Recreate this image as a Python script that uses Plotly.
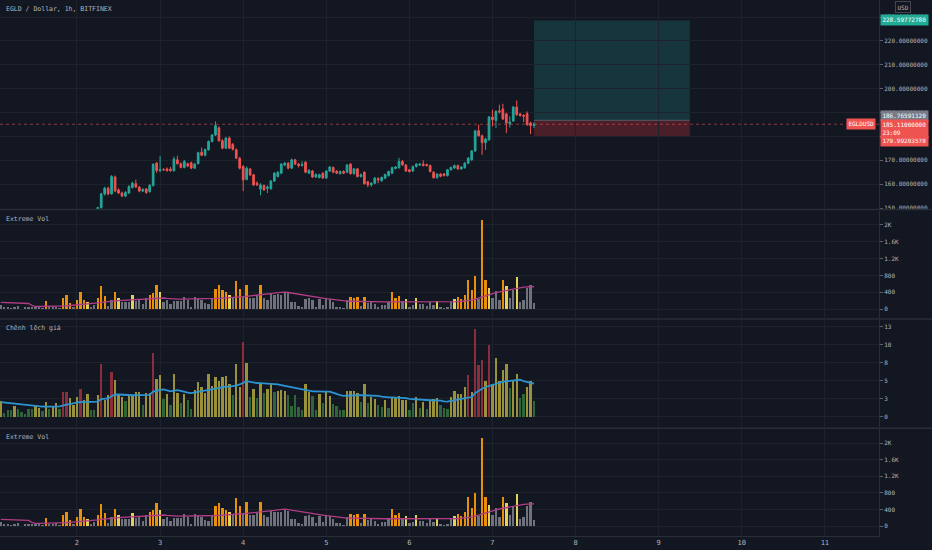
import pandas as pd
import plotly.graph_objects as go

# ---------------- data ----------------
START = "2021-09-01 02:00"
N_BARS = 155
times = pd.date_range(START, periods=N_BARS, freq="h")

opens = [144.0,144.6,144.2,143.5,143.9,144.7,145.6,145.2,144.5,145.0,
         144.8,144.9,145.3,144.9,142.6,143.3,143.7,144.9,144.5,146.4,
         145.1,146.5,146.1,147.6,145.5,146.8,148.3,148.1,147.9,150.2,
         155.9,158.3,155.9,163.0,157.6,156.3,155.0,156.3,158.6,160.2,
         158.8,157.1,158.0,156.9,159.4,168.8,165.7,166.1,166.4,166.3,
         165.6,170.2,168.6,167.0,168.6,169.0,166.7,168.6,173.4,172.1,
         174.4,177.9,180.6,183.6,178.2,175.1,179.3,176.7,174.4,170.9,
         167.4,162.0,166.3,163.9,160.4,157.9,159.4,158.2,158.1,161.3,
         163.2,164.6,168.0,168.8,166.7,170.2,168.4,167.8,169.2,164.6,
         165.5,163.0,162.8,164.6,162.6,165.5,167.0,165.4,164.4,165.3,
         165.0,168.4,164.4,166.4,163.2,165.0,161.0,159.7,160.4,162.3,
         161.4,162.5,163.6,164.6,166.6,166.9,169.5,168.0,166.0,165.5,
         167.4,168.0,168.4,168.2,167.8,165.0,162.7,164.2,164.3,163.6,
         166.0,166.8,167.8,166.4,166.9,168.8,170.2,173.9,182.4,180.3,
         177.4,178.6,188.1,186.7,190.7,191.5,189.4,185.3,186.5,192.3,
         189.4,188.8,189.5,185.6,184.6]
highs = [145.2,145.5,144.9,144.3,145.0,146.1,146.0,145.8,145.4,145.6,
         145.3,145.5,145.6,145.1,143.7,144.0,145.2,145.4,146.9,147.8,
         146.9,147.2,148.2,148.9,147.2,148.8,148.9,148.8,150.3,156.4,
         158.9,158.9,163.8,163.6,158.3,156.9,157.1,159.6,161.0,161.9,
         159.2,158.3,158.4,160.1,168.8,169.3,171.9,166.7,167.0,167.2,
         171.5,171.9,169.1,170.1,169.0,169.4,169.0,173.6,175.3,174.9,
         178.3,181.0,186.3,184.2,178.9,179.8,180.0,177.2,175.0,171.4,
         167.9,167.4,166.8,164.3,161.2,160.4,159.9,159.5,161.7,165.0,
         165.4,168.8,169.3,169.3,170.7,170.6,168.9,169.6,169.6,166.3,
         166.0,164.5,164.4,165.0,165.9,167.6,167.4,165.9,165.7,165.8,
         168.5,168.8,166.8,166.8,164.5,165.4,161.4,160.8,163.0,162.9,
         163.2,164.4,165.7,167.3,167.6,171.0,170.1,168.4,166.4,167.8,
         168.8,168.8,170.0,168.6,168.2,165.4,164.6,164.6,164.7,166.4,
         167.4,168.2,168.2,167.6,169.2,171.4,174.3,182.8,185.0,180.8,
         179.4,188.6,191.2,191.0,193.3,193.7,189.9,188.4,192.8,195.1,
         189.9,189.3,190.5,186.2,186.0]
lows = [143.1,143.8,142.9,142.7,143.2,144.0,144.9,144.1,143.9,144.3,
        144.2,144.5,144.6,141.8,142.2,142.8,143.4,144.1,143.4,144.5,
        144.6,145.8,145.7,144.9,145.0,146.2,147.8,147.6,147.5,149.6,
        155.2,155.3,155.6,156.6,155.8,154.6,154.5,155.9,158.2,158.4,
        156.6,156.7,155.9,156.4,159.0,164.8,165.0,165.6,165.2,165.3,
        165.3,168.2,166.6,166.6,167.1,166.3,166.4,168.3,171.8,171.7,
        174.0,177.5,180.2,177.8,174.6,174.7,174.7,174.1,170.5,166.2,
        157.1,161.6,163.4,159.3,159.2,155.3,157.2,156.3,157.6,160.9,
        162.8,164.2,167.5,166.2,166.3,168.0,167.0,167.4,164.6,164.2,
        162.6,162.6,162.4,162.2,162.2,165.1,164.6,164.2,164.0,164.2,
        164.6,164.0,164.0,162.8,162.8,159.8,158.7,158.9,160.0,160.4,
        161.0,162.1,163.2,164.2,166.2,166.5,167.7,165.1,164.9,165.1,
        167.0,167.6,167.4,167.4,164.9,162.3,162.3,162.9,163.2,163.2,
        165.7,166.4,166.0,166.0,166.5,168.4,169.8,173.5,179.9,172.3,
        174.4,178.2,184.2,183.6,189.6,186.9,181.4,183.7,186.1,188.7,
        188.3,186.0,184.5,181.0,183.5]
closes = [144.6,144.2,143.5,143.9,144.7,145.6,145.2,144.5,145.0,144.8,
          144.9,145.3,144.9,142.6,143.3,143.7,144.9,144.5,146.4,145.1,
          146.5,146.1,147.6,145.5,146.8,148.3,148.1,147.9,150.2,155.9,
          158.3,155.9,163.2,157.1,156.3,155.0,156.5,159.0,160.4,158.8,
          157.1,157.8,156.5,159.4,168.3,165.7,166.1,166.0,165.7,165.6,
          170.5,168.6,167.0,169.5,167.6,166.7,168.4,173.2,172.1,174.5,
          177.9,180.6,184.5,178.2,175.1,179.3,175.1,174.6,170.9,166.7,
          161.8,166.7,163.9,159.7,159.7,159.7,157.6,158.8,161.3,164.6,
          165.0,168.4,168.8,166.7,170.2,168.4,167.8,168.2,165.0,165.8,
          163.0,164.0,163.9,162.6,165.5,167.2,165.0,164.6,165.3,164.6,
          168.0,164.4,166.4,163.2,163.9,160.2,159.7,160.4,162.5,161.8,
          162.8,164.0,165.3,166.9,167.2,169.5,168.1,165.5,165.3,167.4,
          168.4,168.4,167.8,167.8,165.3,162.7,164.2,163.3,163.6,166.0,
          167.0,167.8,166.4,167.2,168.8,170.9,173.9,182.3,180.3,177.4,
          178.9,188.1,187.0,190.5,190.3,187.3,185.6,186.0,192.3,189.1,
          188.8,188.5,184.9,184.6,185.11]

volume = [95,40,55,16,40,80,8,40,48,40,
          40,40,24,200,55,40,63,32,262,341,
          150,40,222,405,214,167,40,87,254,540,
          310,71,214,405,270,159,159,175,325,190,
          238,119,254,341,389,563,397,159,214,111,
          198,190,190,286,214,40,278,246,206,151,
          119,262,484,563,445,397,333,286,675,484,
          286,572,270,270,325,580,270,222,365,340,
          349,341,397,373,159,175,79,40,246,254,
          214,63,230,95,254,230,175,63,63,24,
          214,294,270,294,79,278,151,167,111,56,
          87,103,159,413,254,318,198,246,63,87,
          270,119,119,71,175,95,198,56,24,40,
          167,230,294,246,341,691,445,786,238,2120,
          691,508,270,437,214,691,556,270,461,770,
          175,222,492,572,135]
volume_class = ("gggggggggg" "gggoggggoo" "ogoooyggoo" "oggoygggyg" "gggoooyggg"
                "gggggggggg" "ggooooygoo" "gogggogggg" "gggggggggg" "gggggggggg"
                "gooogogggg" "gggooogygg" "ygggggyggg" "gyoooooogo" "oygggoyggy"
                "ggggg")
volume_ma = [160,158,150,142,137,135,135,135,134,90,
             63,63,63,65,67,68,70,71,75,80,
             87,93,97,105,115,122,132,140,148,160,
             172,180,188,195,202,208,213,218,222,225,
             228,230,238,248,258,265,270,265,255,245,
             240,238,238,238,238,237,237,238,238,240,
             245,250,254,258,262,265,268,270,278,288,
             296,305,312,322,332,342,352,360,370,378,
             390,400,405,395,380,365,350,338,325,310,
             298,285,272,260,248,236,225,215,205,195,
             190,188,185,182,180,178,176,175,175,175,
             175,175,175,175,175,175,175,174,173,172,
             171,170,169,168,167,167,167,168,170,172,
             174,176,180,188,196,205,214,240,268,292,
             315,340,365,390,410,428,445,460,475,492,
             508,522,528,530,532]

spread = [2.2,0.55,0.9,0.9,1.5,1.15,0.7,0.4,1.15,1.15,
          1.6,1.25,0.8,2.0,1.15,1.4,1.95,1.15,3.4,3.4,
          2.55,1.6,2.7,3.9,2.3,3.2,1.0,1.0,3.0,7.4,
          2.3,3.0,6.25,5.1,3.1,2.8,2.2,2.9,2.9,3.4,
          3.4,1.6,3.3,3.3,8.85,5.3,5.8,2.5,3.2,1.6,
          6.0,3.3,1.95,3.2,2.3,1.15,3.7,4.85,4.1,3.3,
          6.0,4.25,5.5,5.05,5.5,5.65,4.6,3.0,7.4,4.2,
          10.4,7.5,2.7,3.9,2.55,4.6,3.25,3.85,4.5,3.5,
          3.65,3.7,3.65,3.1,1.5,3.0,1.4,0.9,4.6,3.5,
          2.9,1.0,3.2,1.95,3.4,2.9,1.8,1.5,0.9,1.0,
          3.55,3.65,3.65,3.3,2.05,4.6,1.95,2.8,2.5,1.6,
          1.35,2.3,1.25,2.7,2.7,2.9,2.3,2.3,0.9,1.95,
          2.7,1.25,2.05,1.15,2.4,2.5,2.65,1.7,1.25,1.15,
          2.8,3.55,3.2,3.2,4.1,5.8,3.5,12.25,7.25,7.95,
          5.05,9.95,4.6,8.2,5.05,6.5,7.4,4.05,5.05,6.0,
          2.55,3.2,4.15,5.05,2.2]
spread_class = ("ygggyggggg" "yygygyygrr" "yyyryyggyr" "yyryyygyyy" "ygyyryygyg"
                "yygyggyyyy" "yyyyyyygyy" "rygygygyyg" "yyygggggyy" "ggygyygggg"
                "yyyygygyyg" "gygyyyyygg" "ygygyyyggg" "yyyyyryrrr" "yryyyyygyy"
                "ggyyg")
spread_ma = [2.05,2.0,1.95,1.85,1.75,1.7,1.65,1.6,1.55,1.5,
             1.48,1.45,1.43,1.42,1.4,1.4,1.42,1.45,1.6,1.7,
             1.75,1.9,2.0,2.05,2.05,2.05,2.05,2.05,2.1,2.45,
             2.5,2.55,2.85,3.1,3.1,3.05,3.0,3.0,3.0,3.0,
             3.0,2.95,3.0,3.05,3.5,3.65,3.75,3.8,3.7,3.55,
             3.65,3.7,3.6,3.45,3.35,3.3,3.4,3.5,3.55,3.6,
             3.7,3.8,3.9,4.0,4.15,4.2,4.2,4.25,4.35,4.5,
             4.7,4.95,4.85,4.75,4.7,4.68,4.65,4.62,4.6,4.55,
             4.5,4.4,4.3,4.2,4.1,3.95,3.85,3.8,3.7,3.6,
             3.55,3.55,3.5,3.5,3.5,3.5,3.4,3.2,3.0,2.9,
             2.95,3.0,3.0,3.0,3.0,3.0,2.98,2.96,2.95,2.9,
             2.8,2.72,2.7,2.7,2.68,2.66,2.65,2.6,2.5,2.45,
             2.4,2.35,2.3,2.3,2.3,2.3,2.3,2.25,2.15,2.1,
             2.2,2.35,2.4,2.5,2.6,2.65,2.75,3.3,3.65,3.9,
             4.15,4.3,4.45,4.65,4.75,4.85,4.95,5.0,5.1,5.2,
             5.15,4.95,4.85,4.75,4.6]

# long-position tool
ENTRY = 186.76591120
TARGET = 228.59772780
STOP = 179.99203578
LAST_PRICE = 185.11
COUNTDOWN = "23:09"
POSITION_END = "2021-09-09 09:00"

price_ticks = [150, 160, 170, 180, 190, 200, 210, 220, 230]
vol_ticks = [0, 400, 800, 1200, 1600, 2000]
vol_tick_text = ["0", "400", "800", "1.2K", "1.6K", "2K"]
spread_ticks = [0, 2.5, 5, 7.5, 10, 12.5]
spread_tick_text = ["0", "3", "5", "8", "10", "13"]
day_ticks = pd.date_range("2021-09-02", "2021-09-11", freq="D")
day_tick_text = [str(d.day) for d in day_ticks]
X_RANGE = ["2021-09-01 01:46", "2021-09-11 15:38"]

for arr in (opens, highs, lows, closes, volume, volume_class, volume_ma,
            spread, spread_class, spread_ma):
    assert len(arr) == N_BARS, len(arr)

# ---------------- style ----------------
BG = "#131722"
GRID = "#1e222d"
TXT = "#b2b5be"
FONT = "DejaVu Sans Mono"
FS = 6.5
FS_TICK = 6
UP, DOWN = "#26a69a", "#ef5350"
VOL_COL = {"g": "#6f727c", "o": "#e8900c", "y": "#e3d15a"}
SPR_COL = {"y": "#9a923a", "g": "#2f6639", "r": "#8c2d3e"}

fig = go.Figure()
fig.add_trace(go.Candlestick(
    x=times, open=opens, high=highs, low=lows, close=closes,
    xaxis="x", yaxis="y", whiskerwidth=0,
    increasing=dict(line=dict(color=UP, width=1), fillcolor=UP),
    decreasing=dict(line=dict(color=DOWN, width=1), fillcolor=DOWN),
    showlegend=False, hoverinfo="skip"))

bar_w = 3600000 * 0.68
for xa, ya in (("x2", "y2"), ("x4", "y4")):
    fig.add_trace(go.Bar(x=times, y=volume, xaxis=xa, yaxis=ya, width=bar_w,
                         marker=dict(color=[VOL_COL[c] for c in volume_class], line=dict(width=0)),
                         showlegend=False, hoverinfo="skip"))
    fig.add_trace(go.Scatter(x=times, y=volume_ma, xaxis=xa, yaxis=ya, mode="lines",
                             line=dict(color="#b23c86", width=1.3),
                             showlegend=False, hoverinfo="skip"))

fig.add_trace(go.Bar(x=times, y=spread, xaxis="x3", yaxis="y3", width=bar_w,
                     marker=dict(color=[SPR_COL[c] for c in spread_class], line=dict(width=0)),
                     showlegend=False, hoverinfo="skip"))
fig.add_trace(go.Scatter(x=times, y=spread_ma, xaxis="x3", yaxis="y3", mode="lines",
                         line=dict(color="#2b94d1", width=1.8),
                         showlegend=False, hoverinfo="skip"))

H_PLOT = 536.0
def dom(top_px, bot_px):
    return [1 - bot_px / H_PLOT, 1 - top_px / H_PLOT]

def xax(show_labels, anchor):
    return dict(type="date", range=X_RANGE, domain=[0, 1], anchor=anchor,
                showgrid=True, gridcolor=GRID,
                gridwidth=1, tickvals=list(day_ticks), ticktext=day_tick_text,
                showticklabels=show_labels, ticks="", zeroline=False,
                tickfont=dict(family=FONT, size=7, color=TXT),
                rangeslider=dict(visible=False), fixedrange=True, showline=False)

def yax(domain, rng, tickvals, ticktext, anchor):
    return dict(domain=domain, range=rng, side="right", anchor=anchor,
                tickvals=tickvals, ticktext=ticktext, showgrid=True, gridcolor=GRID,
                zeroline=False, ticks="outside", ticklen=3, tickcolor="#5d606b",
                showline=True, linecolor="#2a2e39", linewidth=1, automargin=False,
                fixedrange=True, tickfont=dict(family=FONT, size=FS_TICK, color=TXT))

x4 = xax(True, "y4")
x4.update(showline=True, linecolor="#2a2e39")
fig.update_layout(
    width=932, height=550, paper_bgcolor=BG, plot_bgcolor=BG,
    margin=dict(l=0, r=53, t=0, b=14, autoexpand=False),
    bargap=0, showlegend=False,
    xaxis=xax(False, "y"), xaxis2={**xax(False, "y2"), "matches": "x"},
    xaxis3={**xax(False, "y3"), "matches": "x"}, xaxis4={**x4, "matches": "x"},
    yaxis=yax(dom(0, 209), [149.59, 237.18], price_ticks,
              [f"{v:.8f}" for v in price_ticks], "x"),
    yaxis2=yax(dom(211, 318), [-210, 2329], vol_ticks, vol_tick_text, "x2"),
    yaxis3=yax(dom(320, 427), [-1.42, 13.47], spread_ticks, spread_tick_text, "x3"),
    yaxis4=yax(dom(429, 536), [-241, 2340], vol_ticks, vol_tick_text, "x4"),
)

shapes = [
    dict(type="rect", xref="x", yref="y", x0=times[-1], x1=POSITION_END, y0=ENTRY, y1=TARGET,
         fillcolor="rgba(38,166,154,0.22)", line=dict(width=0), layer="below"),
    dict(type="rect", xref="x", yref="y", x0=times[-1], x1=POSITION_END, y0=STOP, y1=ENTRY,
         fillcolor="rgba(242,54,69,0.25)", line=dict(width=0), layer="below"),
    dict(type="line", xref="x", yref="y", x0=times[-1], x1=POSITION_END, y0=ENTRY, y1=ENTRY,
         line=dict(color="rgba(120,123,134,0.6)", width=1)),
    dict(type="line", xref="x domain", yref="y", x0=0, x1=1, y0=LAST_PRICE, y1=LAST_PRICE,
         line=dict(color="rgba(239,83,80,0.55)", width=1, dash="dot")),
]
for ypx in (209.5, 319, 428.2):
    yp = 1 - ypx / H_PLOT
    shapes.append(dict(type="line", xref="paper", yref="paper", x0=0, x1=1.06, y0=yp, y1=yp,
                       line=dict(color="#2a2e39", width=1.5)))
fig.update_layout(shapes=shapes)

def price_label(y, text, bg, yshift=0):
    return dict(xref="paper", yref="y", x=1, y=y, xanchor="left", yanchor="middle",
                xshift=1, yshift=yshift, text=text, showarrow=False, align="left",
                bgcolor=bg, borderpad=1.4,
                font=dict(family=FONT, size=FS_TICK, color="#ffffff"))

ann = [
    dict(xref="paper", yref="paper", x=0, y=1 - 9 / H_PLOT, xanchor="left", yanchor="middle",
         xshift=4, text="EGLD / Dollar, 1h, BITFINEX", showarrow=False,
         font=dict(family=FONT, size=FS, color=TXT)),
    dict(xref="paper", yref="paper", x=0, y=1 - 219 / H_PLOT, xanchor="left", yanchor="middle",
         xshift=4, text="Extreme Vol", showarrow=False, font=dict(family=FONT, size=FS, color=TXT)),
    dict(xref="paper", yref="paper", x=0, y=1 - 328 / H_PLOT, xanchor="left", yanchor="middle",
         xshift=4, text="Chênh lệch giá", showarrow=False, font=dict(family=FONT, size=FS, color=TXT)),
    dict(xref="paper", yref="paper", x=0, y=1 - 437 / H_PLOT, xanchor="left", yanchor="middle",
         xshift=4, text="Extreme Vol", showarrow=False, font=dict(family=FONT, size=FS, color=TXT)),
    price_label(TARGET, f"{TARGET:.8f}", "#22ab94"),
    dict(xref="paper", yref="paper", x=1, y=1 - 7 / H_PLOT, xanchor="left", yanchor="middle",
         xshift=16, text="USD", showarrow=False, bordercolor="#434651", borderwidth=1,
         borderpad=1.5, bgcolor=BG, font=dict(family=FONT, size=FS_TICK, color=TXT)),
    price_label(ENTRY, f"{ENTRY:.8f}", "#787b86", yshift=4.5),
    price_label(STOP, f"{STOP:.8f}", "#ef5350", yshift=-5),
    price_label(LAST_PRICE, f"{LAST_PRICE:.8f}<br>{COUNTDOWN}", "#ef5350", yshift=-5),
    dict(xref="paper", yref="y", x=1, y=LAST_PRICE, xanchor="right", yanchor="middle",
         xshift=-3, text="EGLDUSD", showarrow=False, bgcolor="#ef5350", borderpad=1.4,
         font=dict(family=FONT, size=FS_TICK, color="#ffffff")),
]
fig.update_layout(annotations=ann)

fig.write_html("out.html", config={"displayModeBar": False, "staticPlot": True},
               post_script="document.body.style.margin='0px';document.body.style.overflow='hidden';")
